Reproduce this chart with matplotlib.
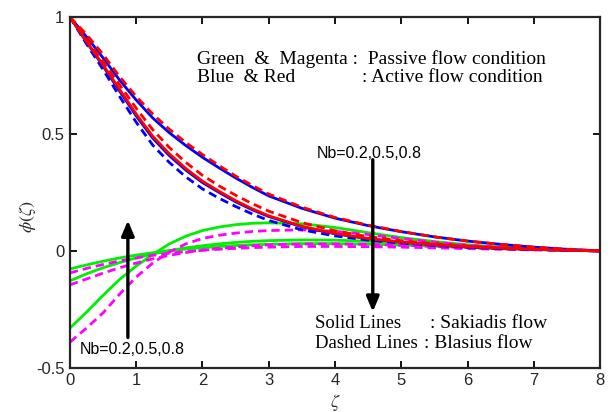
import matplotlib
matplotlib.use("Agg")
import matplotlib.pyplot as plt

# --- data ---
zeta = [0, 0.25, 0.5, 0.75, 1, 1.25, 1.5, 1.75, 2, 2.25, 2.5, 2.75, 3, 3.5, 4, 4.5, 5, 5.5, 6, 6.5, 7, 7.5, 8]

blue_solid_outer = [1, .915, .825, .73, .645, .568, .505, .45, .40, .355, .312, .272, .235, .182, .14, .108, .082, .06, .042, .028, .016, .007, 0]
red_dashed_outer = [1, .925, .84, .745, .66, .585, .52, .463, .412, .365, .32, .28, .243, .187, .143, .11, .083, .06, .042, .028, .016, .007, 0]
red_solid = [1, .895, .795, .69, .585, .49, .415, .352, .298, .255, .215, .18, .15, .105, .075, .053, .038, .027, .018, .012, .007, .003, 0]
blue_solid_inner = [1, .893, .79, .683, .577, .482, .407, .345, .292, .25, .21, .176, .147, .103, .073, .052, .037, .026, .017, .011, .007, .003, 0]
blue_dashed = [1, .885, .775, .66, .55, .452, .378, .316, .265, .225, .19, .158, .13, .09, .064, .046, .033, .023, .015, .01, .006, .003, 0]
red_dashed_inner = [1, .905, .81, .71, .61, .518, .442, .378, .323, .278, .238, .202, .17, .121, .086, .061, .044, .031, .021, .014, .008, .004, 0]

green_nb02 = [-.33, -.262, -.19, -.122, -.065, -.015, .03, .063, .087, .102, .112, .118, .12, .116, .1, .078, .057, .04, .026, .016, .009, .004, 0]
green_nb05 = [-.128, -.098, -.072, -.05, -.03, -.013, .001, .013, .022, .03, .036, .041, .044, .047, .046, .041, .034, .026, .019, .013, .008, .004, 0]
green_nb08 = [-.077, -.06, -.044, -.03, -.018, -.008, .001, .008, .014, .019, .023, .026, .028, .031, .031, .029, .025, .02, .015, .01, .006, .003, 0]

magenta_nb02 = [-.39, -.33, -.265, -.185, -.112, -.052, -.005, .03, .053, .067, .076, .083, .087, .09, .084, .07, .053, .037, .024, .015, .008, .003, 0]
magenta_nb05 = [-.145, -.12, -.095, -.072, -.052, -.034, -.019, -.007, .003, .011, .017, .022, .026, .03, .03, .028, .024, .019, .014, .009, .006, .003, 0]
magenta_nb08 = [-.094, -.075, -.058, -.043, -.03, -.019, -.01, -.003, .003, .007, .011, .014, .016, .019, .019, .018, .016, .013, .01, .007, .004, .002, 0]

xticks = [0, 1, 2, 3, 4, 5, 6, 7, 8]
yticks = [-0.5, 0, 0.5, 1]
ytick_labels = ["-0.5", "0", "0.5", "1"]
nb_label = "Nb=0.2,0.5,0.8"

plt.rcParams['mathtext.fontset'] = 'stix'

fig = plt.figure(figsize=(6.13, 4.12), dpi=100)
ax = fig.add_axes([0.114, 0.107, 0.865, 0.852])

lw = 2.0
dash = (0, (3, 1.8))
GREEN = '#00ee00'
MAG = '#ff00ff'
BLUE = '#0000ff'
RED = '#ff0000'

for g in (green_nb02, green_nb05, green_nb08):
    ax.plot(zeta, g, color=GREEN, lw=lw)
for m in (magenta_nb02, magenta_nb05, magenta_nb08):
    ax.plot(zeta, m, color=MAG, lw=lw, linestyle=dash)

ax.plot(zeta, blue_solid_outer, color=BLUE, lw=lw)
ax.plot(zeta, blue_solid_inner, color=BLUE, lw=lw)
ax.plot(zeta, blue_dashed, color=BLUE, lw=lw, linestyle=dash)
ax.plot(zeta, red_solid, color=RED, lw=lw)
ax.plot(zeta, red_dashed_outer, color=RED, lw=lw, linestyle=dash)
ax.plot(zeta, red_dashed_inner, color=RED, lw=lw, linestyle=dash)

ax.set_xlim(0, 8)
ax.set_ylim(-0.5, 1)
ax.set_xticks(xticks)
ax.set_xticklabels([str(t) for t in xticks])
ax.set_yticks(yticks)
ax.set_yticklabels(ytick_labels)
ax.tick_params(direction='in', top=True, right=True, length=5, width=1.3,
               labelsize=12)
ax.tick_params(axis='x', pad=4)
ax.tick_params(axis='y', pad=4)
for lab in ax.get_xticklabels() + ax.get_yticklabels():
    lab.set_fontfamily('Liberation Sans')
    lab.set_color('#262626')
for s in ax.spines.values():
    s.set_linewidth(1.6)
    s.set_color('#262626')

ax.set_xlabel(r'$\zeta$', fontsize=13, color='#262626')
ax.set_ylabel(r'$\phi(\zeta)$', fontsize=13, color='#262626')
ax.xaxis.set_label_coords(0.5, -0.068)
ax.yaxis.set_label_coords(-0.06, 0.43)

# arrows
ap = dict(arrowstyle='-|>,head_length=0.9,head_width=0.38', color='black', lw=2.4,
          shrinkA=0, shrinkB=0)
ax.annotate('', xy=(0.875, 0.13), xytext=(0.875, -0.37), arrowprops=ap)
ax.annotate('', xy=(4.57, -0.26), xytext=(4.57, 0.39), arrowprops=ap)
ax.text(0.15, -0.42, nb_label, fontsize=11.5, family='Liberation Sans', va='center', ha='left')
ax.text(4.52, 0.417, nb_label, fontsize=11.5, family='Liberation Sans', va='center', ha='center')

serif = 'Liberation Serif'
fs = 14
ax.text(1.92, 0.82, 'Green  &  Magenta :  Passive flow condition', fontsize=fs, family=serif, va='center')
ax.text(1.92, 0.739, 'Blue  & Red', fontsize=fs, family=serif, va='center')
ax.text(4.41, 0.739, ': Active flow condition', fontsize=fs, family=serif, va='center')

ax.text(3.7, -0.312, 'Solid Lines', fontsize=13.5, family=serif, va='center')
ax.text(5.43, -0.312, ': Sakiadis flow', fontsize=fs, family=serif, va='center')
ax.text(3.7, -0.397, 'Dashed Lines', fontsize=13.5, family=serif, va='center')
ax.text(5.34, -0.397, ': Blasius flow', fontsize=fs, family=serif, va='center')

fig.savefig('out.png', dpi=100)
